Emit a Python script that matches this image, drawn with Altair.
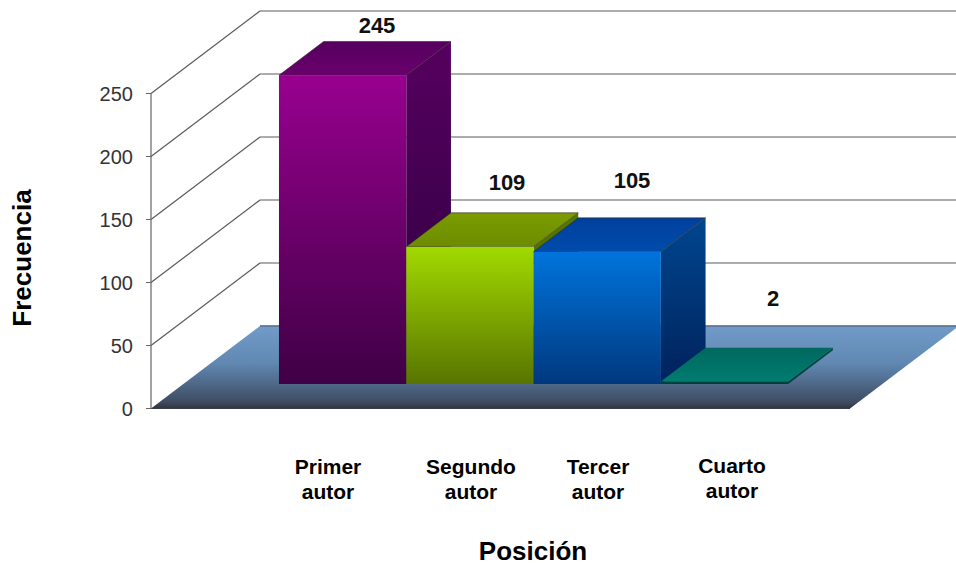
import altair as alt
import pandas as pd

# Datos
autores = ["Primer\nautor", "Segundo\nautor", "Tercer\nautor", "Cuarto\nautor"]
frecuencias = [245, 109, 105, 2]
marcas_y = [0, 50, 100, 150, 200, 250]

# Colores de cada barra: frontal (arriba, abajo), lateral (arriba, abajo), tapa (atrás, delante)
colores = [
    dict(frente=("#98008f", "#3f0045"), lado=("#56005f", "#2c003f"), tapa=("#560060", "#6a006c")),
    dict(frente=("#a2da00", "#587400"), lado=("#5a7800", "#3a5000"), tapa=("#7c9c00", "#6c8c00")),
    dict(frente=("#0074dc", "#00387e"), lado=("#00468f", "#00225c"), tapa=("#00409c", "#004cac")),
    dict(frente=("#004a44", "#003a38"), lado=("#004a44", "#003a38"), tapa=("#00685f", "#007c70")),
]

# Proyección oblicua: la profundidad desplaza a la derecha y hacia arriba
W, H = 956, 566
PX_SLOT = 127.3          # ancho de una barra
PX_VALOR = 1.26          # píxeles por unidad de frecuencia
ORIGEN_X = 246.6
ORIGEN_Y = 408.5
FONDO_X = 109 / PX_SLOT
FONDO_Y = 82.5 / PX_VALOR
PROF_INI = 0.297         # profundidad de la cara frontal de las barras
PROF_FIN = 0.707         # profundidad de la cara trasera
SLOT_MIN = -0.751        # extremos del suelo
SLOT_MAX = 4.74

esc_x = alt.Scale(domain=[-ORIGEN_X / PX_SLOT, (W - ORIGEN_X) / PX_SLOT], range=[0, W], nice=False, zero=False)
esc_y = alt.Scale(domain=[(ORIGEN_Y - H) / PX_VALOR, ORIGEN_Y / PX_VALOR], range=[H, 0], nice=False, zero=False)


def px(slot, prof=0.0):
    return slot + prof * FONDO_X


def py(valor, prof=0.0):
    return valor + prof * FONDO_Y


def degradado(c1, c2):
    return alt.Gradient(
        gradient="linear", x1=0, y1=0, x2=0, y2=1,
        stops=[alt.GradientStop(color=c1, offset=0), alt.GradientStop(color=c2, offset=1)],
    )


def enc(**canales):
    salida = {}
    for nombre, campo in canales.items():
        if nombre == "x":
            salida[nombre] = alt.X(campo, type="quantitative", scale=esc_x, axis=None)
        elif nombre == "y":
            salida[nombre] = alt.Y(campo, type="quantitative", scale=esc_y, axis=None)
        elif nombre == "x2":
            salida[nombre] = alt.X2(campo)
        elif nombre == "y2":
            salida[nombre] = alt.Y2(campo)
    return salida


def cara_vertical(filas, fill):
    return alt.Chart(pd.DataFrame(filas)).mark_area(color=fill, opacity=1).encode(
        **enc(x="x", y="y", y2="y2")
    )


def cara_horizontal(filas, fill, stroke=None):
    estilo = dict(color=fill, orient="horizontal", opacity=1)
    if stroke:
        estilo.update(stroke=stroke, strokeWidth=0.6)
    return alt.Chart(pd.DataFrame(filas)).mark_area(**estilo).encode(
        **enc(y="y", x="x", x2="x2")
    )


capas = []

# Paredes: líneas de rejilla del fondo y del lateral
lineas = []
for m in marcas_y:
    if m > 0:
        lineas.append(dict(x=px(SLOT_MIN), x2=px(SLOT_MIN, 1), y=py(m), y2=py(m, 1)))
    lineas.append(dict(x=px(SLOT_MIN, 1), x2=px(SLOT_MAX, 1), y=py(m, 1), y2=py(m, 1)))
capas.append(
    alt.Chart(pd.DataFrame(lineas)).mark_rule(color="#5a5a5a", strokeWidth=1.2).encode(
        **enc(x="x", x2="x2", y="y", y2="y2")
    )
)

# Suelo
capas.append(
    cara_horizontal(
        [
            dict(y=py(0, 0), x=px(SLOT_MIN, 0), x2=px(SLOT_MAX, 0)),
            dict(y=py(0, 1), x=px(SLOT_MIN, 1), x2=px(SLOT_MAX, 1)),
        ],
        alt.Gradient(
            gradient="linear", x1=0, y1=0, x2=0, y2=1,
            stops=[
                alt.GradientStop(color="#719bc8", offset=0),
                alt.GradientStop(color="#6088b2", offset=0.45),
                alt.GradientStop(color="#4d6685", offset=0.72),
                alt.GradientStop(color="#3e4c62", offset=0.92),
                alt.GradientStop(color="#30343f", offset=1),
            ],
        ),
    )
)

# Bordes delantero y trasero del suelo
borde = pd.DataFrame([dict(x=px(SLOT_MIN), x2=px(SLOT_MAX), y=py(0), y2=py(0))])
capas.append(
    alt.Chart(borde).mark_rule(color="#3c3f48", strokeWidth=1.2).encode(**enc(x="x", x2="x2", y="y", y2="y2"))
)
borde_t = pd.DataFrame([dict(x=px(SLOT_MIN, 1), x2=px(SLOT_MAX, 1), y=py(0, 1), y2=py(0, 1))])
capas.append(
    alt.Chart(borde_t).mark_rule(color="#4e5f74", strokeWidth=1).encode(**enc(x="x", x2="x2", y="y", y2="y2"))
)

# Barras, de izquierda a derecha
for i, (valor, col) in enumerate(zip(frecuencias, colores)):
    izq, der = i, i + 1
    capas.append(
        cara_vertical(
            [
                dict(x=px(der, PROF_INI), y=py(valor, PROF_INI), y2=py(0, PROF_INI)),
                dict(x=px(der, PROF_FIN), y=py(valor, PROF_FIN), y2=py(0, PROF_FIN)),
            ],
            degradado(*col["lado"]),
        )
    )
    capas.append(
        cara_horizontal(
            [
                dict(y=py(valor, PROF_INI), x=px(izq, PROF_INI), x2=px(der, PROF_INI)),
                dict(y=py(valor, PROF_FIN), x=px(izq, PROF_FIN), x2=px(der, PROF_FIN)),
            ],
            degradado(*col["tapa"]),
            stroke="#2a2a20" if valor > 10 else None,
        )
    )
    capas.append(
        cara_vertical(
            [
                dict(x=px(izq, PROF_INI), y=py(valor, PROF_INI), y2=py(0, PROF_INI)),
                dict(x=px(der, PROF_INI), y=py(valor, PROF_INI), y2=py(0, PROF_INI)),
            ],
            degradado(*col["frente"]),
        )
    )

# Eje vertical
x_eje = px(SLOT_MIN)
eje = pd.DataFrame([dict(x=x_eje, y=0, y2=marcas_y[-1])])
capas.append(
    alt.Chart(eje).mark_rule(color="#666666", strokeWidth=1.2).encode(
        x=alt.X("x:Q", scale=esc_x, axis=None), y=alt.Y("y:Q", scale=esc_y, axis=None), y2="y2"
    )
)
LARGO_MARCA = 5 / PX_SLOT
ticks = pd.DataFrame([dict(x=x_eje - LARGO_MARCA, x2=x_eje, y=m) for m in marcas_y])
capas.append(
    alt.Chart(ticks).mark_rule(color="#666666", strokeWidth=1).encode(
        x=alt.X("x:Q", scale=esc_x, axis=None), x2="x2", y=alt.Y("y:Q", scale=esc_y, axis=None)
    )
)

FUENTE = "Liberation Sans"


def texto(filas, **estilo):
    return alt.Chart(pd.DataFrame(filas)).mark_text(font=FUENTE, baseline="alphabetic", **estilo).encode(
        x=alt.X("x:Q", scale=esc_x, axis=None),
        y=alt.Y("y:Q", scale=esc_y, axis=None),
        text="t:N",
    )


# Etiquetas del eje vertical
capas.append(
    texto(
        [dict(x=x_eje - 18 / PX_SLOT, y=m - 7 / PX_VALOR, t=str(m)) for m in marcas_y],
        align="right", fontSize=20, color="#333333",
    )
)


def slot_px(p):
    return (p - ORIGEN_X) / PX_SLOT


def valor_px(p):
    return (ORIGEN_Y - p) / PX_VALOR


# Etiquetas de valor sobre cada barra
centros_valor = [377, 507, 632, 773]
lineas_valor = [33, 190, 188, 306]
capas.append(
    texto(
        [dict(x=slot_px(cx), y=valor_px(by), t=str(v)) for cx, by, v in zip(centros_valor, lineas_valor, frecuencias)],
        align="center", fontSize=22, fontWeight="bold", color="#111111",
    )
)

# Etiquetas de categoría, en dos renglones
centros_cat = [328, 471, 598, 732]
lineas_cat = [474, 474, 474, 473]
filas_cat = []
for cx, by, nombre in zip(centros_cat, lineas_cat, autores):
    a, b = nombre.split("\n")
    filas_cat.append(dict(x=slot_px(cx), y=valor_px(by), t=a))
    filas_cat.append(dict(x=slot_px(cx), y=valor_px(by + 25), t=b))
capas.append(texto(filas_cat, align="center", fontSize=21, fontWeight="bold", color="#000000"))

# Títulos de los ejes
capas.append(
    texto([dict(x=slot_px(533), y=valor_px(560), t="Posición")], align="center", fontSize=26, fontWeight="bold", color="#000000")
)
capas.append(
    texto([dict(x=slot_px(31), y=valor_px(258), t="Frecuencia")], align="center", angle=270, fontSize=26, fontWeight="bold", color="#000000")
)

chart = (
    alt.layer(*capas)
    .properties(width=W, height=H, padding=0, autosize=alt.AutoSizeParams(type="none"))
    .configure_view(stroke=None)
)

chart.save("out.html", embed_options={"renderer": "svg", "actions": False})
